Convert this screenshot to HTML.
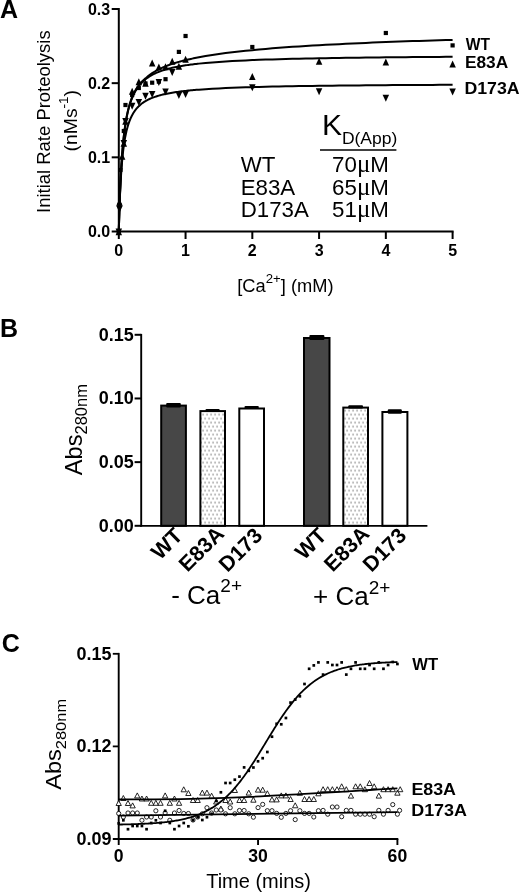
<!DOCTYPE html>
<html lang="en"><head><meta charset="utf-8"><title>Figure</title>
<style>html,body{margin:0;padding:0;background:#fff}svg{display:block}text{font-family:"Liberation Sans", sans-serif;fill:#000}</style>
</head><body>
<svg width="520" height="893" viewBox="0 0 520 893">
<rect width="520" height="893" fill="#fff"/>
<g id="panelA">
<text x="0.1" y="17.9" font-size="25" font-weight="bold" text-anchor="start" >A</text>
<line x1="118.8" y1="8" x2="118.8" y2="232.5" stroke="#000" stroke-width="2" />
<line x1="117.8" y1="231.6" x2="453.6" y2="231.6" stroke="#000" stroke-width="2" />
<line x1="111.7" y1="8.99" x2="118.8" y2="8.99" stroke="#000" stroke-width="2" />
<text x="110.2" y="14.79" font-size="16" font-weight="bold" text-anchor="end" >0.3</text>
<line x1="111.7" y1="83.16" x2="118.8" y2="83.16" stroke="#000" stroke-width="2" />
<text x="110.2" y="88.96" font-size="16" font-weight="bold" text-anchor="end" >0.2</text>
<line x1="111.7" y1="157.33" x2="118.8" y2="157.33" stroke="#000" stroke-width="2" />
<text x="110.2" y="163.13" font-size="16" font-weight="bold" text-anchor="end" >0.1</text>
<line x1="111.7" y1="231.5" x2="118.8" y2="231.5" stroke="#000" stroke-width="2" />
<text x="110.2" y="237.3" font-size="16" font-weight="bold" text-anchor="end" >0.0</text>
<line x1="118.8" y1="231.5" x2="118.8" y2="239" stroke="#000" stroke-width="2" />
<text x="118.8" y="256.3" font-size="16" font-weight="bold" text-anchor="middle" >0</text>
<line x1="185.56" y1="231.5" x2="185.56" y2="239" stroke="#000" stroke-width="2" />
<text x="185.56" y="256.3" font-size="16" font-weight="bold" text-anchor="middle" >1</text>
<line x1="252.32" y1="231.5" x2="252.32" y2="239" stroke="#000" stroke-width="2" />
<text x="252.32" y="256.3" font-size="16" font-weight="bold" text-anchor="middle" >2</text>
<line x1="319.08" y1="231.5" x2="319.08" y2="239" stroke="#000" stroke-width="2" />
<text x="319.08" y="256.3" font-size="16" font-weight="bold" text-anchor="middle" >3</text>
<line x1="385.84" y1="231.5" x2="385.84" y2="239" stroke="#000" stroke-width="2" />
<text x="385.84" y="256.3" font-size="16" font-weight="bold" text-anchor="middle" >4</text>
<line x1="452.6" y1="231.5" x2="452.6" y2="239" stroke="#000" stroke-width="2" />
<text x="452.6" y="256.3" font-size="16" font-weight="bold" text-anchor="middle" >5</text>
<text transform="translate(50.3 121.65) rotate(-90)" font-size="18.47" text-anchor="middle">Initial Rate Proteolysis</text>
<text transform="translate(76.9 120.7) rotate(-90) scale(1.035 1)" font-size="18.7" text-anchor="middle">(nMs<tspan font-size="13" dy="-9.1">-1</tspan><tspan dy="9.1">)</tspan></text>
<text x="285.4" y="292.2" font-size="18.3" text-anchor="middle">[Ca<tspan font-size="13.2" dy="-9">2+</tspan><tspan dy="9">] (mM)</tspan></text>
<path d="M118.8 231.5 L119.07 221.21 L119.33 212.05 L119.6 203.83 L119.87 196.42 L120.14 189.71 L120.4 183.6 L120.67 178.01 L120.94 172.88 L121.2 168.15 L121.47 163.79 L121.74 159.74 L122 155.97 L122.27 152.46 L122.54 149.18 L122.81 146.11 L123.07 143.23 L123.34 140.51 L123.61 137.96 L123.87 135.55 L124.14 133.27 L124.41 131.11 L124.67 129.06 L124.94 127.12 L125.21 125.27 L125.48 123.5 L125.74 121.82 L126.01 120.22 L126.28 118.69 L126.54 117.22 L126.81 115.82 L127.08 114.5 L127.35 113.24 L127.61 112.03 L127.88 110.87 L128.15 109.75 L128.41 108.68 L128.68 107.65 L128.95 106.65 L129.21 105.69 L129.48 104.76 L129.75 103.87 L130.02 103.01 L130.28 102.18 L130.55 101.37 L130.82 100.59 L131.08 99.84 L131.35 99.11 L131.62 98.4 L131.88 97.71 L132.15 97.05 L132.42 96.4 L132.69 95.78 L132.95 95.17 L133.22 94.58 L133.49 94 L133.75 93.44 L134.02 92.9 L134.29 92.37 L134.56 91.86 L134.82 91.36 L135.09 90.87 L135.36 90.39 L135.62 89.93 L135.89 89.48 L136.16 89.03 L136.42 88.6 L136.69 88.18 L136.96 87.77 L137.23 87.37 L137.49 86.98 L137.76 86.6 L138.03 86.23 L138.29 85.86 L138.56 85.5 L138.83 85.16 L140.16 83.52 L141.5 82.04 L142.83 80.71 L144.17 79.49 L145.5 78.38 L146.84 77.19 L148.17 76.08 L149.51 75.05 L150.84 74.08 L152.18 73.17 L153.52 72.32 L154.85 71.51 L156.19 70.74 L157.52 70.02 L158.86 69.33 L160.19 68.68 L161.53 68.05 L162.86 67.45 L164.2 66.88 L165.53 66.34 L166.87 65.81 L168.2 65.31 L169.54 64.82 L170.87 64.35 L172.21 63.9 L173.54 63.47 L174.88 63.05 L176.21 62.64 L177.55 62.25 L178.88 61.87 L180.22 61.5 L181.55 61.14 L182.89 60.8 L184.22 60.46 L185.56 60.13 L186.9 59.81 L188.23 59.5 L189.57 59.2 L190.9 58.9 L192.24 58.62 L193.57 58.34 L194.91 58.06 L196.24 57.79 L197.58 57.53 L198.91 57.28 L205.59 56.08 L212.26 55 L218.94 54.02 L225.62 53.11 L232.29 52.28 L238.97 51.51 L245.64 50.8 L252.32 50.13 L259 49.5 L265.67 48.91 L272.35 48.36 L279.02 47.83 L285.7 47.34 L292.38 46.87 L299.05 46.42 L305.73 45.99 L312.4 45.58 L319.08 45.2 L325.76 44.82 L332.43 44.47 L339.11 44.13 L345.78 43.8 L352.46 43.48 L359.14 43.18 L365.81 42.89 L372.49 42.61 L379.16 42.34 L385.84 42.08 L392.52 41.83 L399.19 41.58 L405.87 41.35 L412.54 41.12 L419.22 40.9 L425.9 40.68 L432.57 40.48 L439.25 40.27 L445.92 40.08 L452.6 39.89" fill="none" stroke="#000" stroke-width="2" stroke-linejoin="round" stroke-linecap="butt" />
<path d="M118.8 231.5 L119.07 221.24 L119.33 212.11 L119.6 203.92 L119.87 196.54 L120.14 189.86 L120.4 183.78 L120.67 178.22 L120.94 173.12 L121.2 168.42 L121.47 164.08 L121.74 160.06 L122 156.33 L122.27 152.85 L122.54 149.6 L122.81 146.55 L123.07 143.7 L123.34 141.02 L123.61 138.49 L123.87 136.11 L124.14 133.86 L124.41 131.73 L124.67 129.71 L124.94 127.8 L125.21 125.98 L125.48 124.25 L125.74 122.6 L126.01 121.02 L126.28 119.52 L126.54 118.08 L126.81 116.71 L127.08 115.39 L127.35 114.13 L127.61 112.92 L127.88 111.76 L128.15 110.64 L128.41 109.57 L128.68 108.54 L128.95 107.54 L129.21 106.58 L129.48 105.65 L129.75 104.76 L130.02 103.9 L130.28 103.07 L130.55 102.26 L130.82 101.48 L131.08 100.73 L131.35 100 L131.62 99.29 L131.88 98.6 L132.15 97.94 L132.42 97.29 L132.69 96.67 L132.95 96.06 L133.22 95.47 L133.49 94.89 L133.75 94.33 L134.02 93.79 L134.29 93.26 L134.56 92.75 L134.82 92.25 L135.09 91.76 L135.36 91.28 L135.62 90.82 L135.89 90.37 L136.16 89.92 L136.42 89.49 L136.69 89.07 L136.96 88.66 L137.23 88.26 L137.49 87.87 L137.76 87.49 L138.03 87.12 L138.29 86.75 L138.56 86.39 L138.83 86.05 L140.16 84.41 L141.5 82.93 L142.83 81.6 L144.17 80.38 L145.5 79.27 L146.84 78.25 L148.17 77.31 L149.51 76.44 L150.84 75.64 L152.18 74.89 L153.52 74.19 L154.85 73.54 L156.19 72.94 L157.52 72.36 L158.86 71.83 L160.19 71.32 L161.53 70.85 L162.86 70.4 L164.2 69.97 L165.53 69.57 L166.87 69.18 L168.2 68.82 L169.54 68.47 L170.87 68.14 L172.21 67.83 L173.54 67.53 L174.88 67.24 L176.21 66.97 L177.55 66.7 L178.88 66.45 L180.22 66.21 L181.55 65.98 L182.89 65.75 L184.22 65.54 L185.56 65.33 L186.9 65.13 L188.23 64.94 L189.57 64.76 L190.9 64.58 L192.24 64.4 L193.57 64.24 L194.91 64.08 L196.24 63.92 L197.58 63.77 L198.91 63.62 L205.59 62.96 L212.26 62.38 L218.94 61.88 L225.62 61.44 L232.29 61.05 L238.97 60.7 L245.64 60.38 L252.32 60.1 L259 59.84 L265.67 59.61 L272.35 59.39 L279.02 59.2 L285.7 59.01 L292.38 58.85 L299.05 58.69 L305.73 58.55 L312.4 58.41 L319.08 58.28 L325.76 58.16 L332.43 58.05 L339.11 57.95 L345.78 57.85 L352.46 57.76 L359.14 57.67 L365.81 57.59 L372.49 57.51 L379.16 57.43 L385.84 57.36 L392.52 57.29 L399.19 57.23 L405.87 57.17 L412.54 57.11 L419.22 57.05 L425.9 57 L432.57 56.94 L439.25 56.89 L445.92 56.85 L452.6 56.8" fill="none" stroke="#000" stroke-width="2" stroke-linejoin="round" stroke-linecap="butt" />
<path d="M118.8 231.5 L119.07 221.44 L119.33 212.66 L119.6 204.93 L119.87 198.07 L120.14 191.94 L120.4 186.43 L120.67 181.46 L120.94 176.94 L121.2 172.82 L121.47 169.04 L121.74 165.57 L122 162.37 L122.27 159.41 L122.54 156.66 L122.81 154.11 L123.07 151.72 L123.34 149.49 L123.61 147.4 L123.87 145.44 L124.14 143.59 L124.41 141.86 L124.67 140.21 L124.94 138.66 L125.21 137.19 L125.48 135.8 L125.74 134.47 L126.01 133.21 L126.28 132.01 L126.54 130.87 L126.81 129.78 L127.08 128.74 L127.35 127.74 L127.61 126.79 L127.88 125.88 L128.15 125 L128.41 124.16 L128.68 123.35 L128.95 122.57 L129.21 121.83 L129.48 121.11 L129.75 120.41 L130.02 119.75 L130.28 119.1 L130.55 118.48 L130.82 117.88 L131.08 117.3 L131.35 116.73 L131.62 116.19 L131.88 115.66 L132.15 115.15 L132.42 114.66 L132.69 114.18 L132.95 113.72 L133.22 113.27 L133.49 112.83 L133.75 112.4 L134.02 111.99 L134.29 111.59 L134.56 111.2 L134.82 110.82 L135.09 110.45 L135.36 110.09 L135.62 109.74 L135.89 109.39 L136.16 109.06 L136.42 108.74 L136.69 108.42 L136.96 108.11 L137.23 107.81 L137.49 107.51 L137.76 107.23 L138.03 106.95 L138.29 106.67 L138.56 106.4 L138.83 106.14 L140.16 104.92 L141.5 103.81 L142.83 102.82 L144.17 101.92 L145.5 101.09 L146.84 100.34 L148.17 99.64 L149.51 99 L150.84 98.41 L152.18 97.86 L153.52 97.35 L154.85 96.87 L156.19 96.43 L157.52 96.01 L158.86 95.62 L160.19 95.25 L161.53 94.9 L162.86 94.57 L164.2 94.26 L165.53 93.97 L166.87 93.69 L168.2 93.42 L169.54 93.17 L170.87 92.93 L172.21 92.7 L173.54 92.48 L174.88 92.28 L176.21 92.08 L177.55 91.89 L178.88 91.7 L180.22 91.53 L181.55 91.36 L182.89 91.2 L184.22 91.04 L185.56 90.89 L186.9 90.75 L188.23 90.61 L189.57 90.48 L190.9 90.35 L192.24 90.22 L193.57 90.1 L194.91 89.99 L196.24 89.87 L197.58 89.77 L198.91 89.66 L205.59 89.18 L212.26 88.77 L218.94 88.41 L225.62 88.09 L232.29 87.81 L238.97 87.56 L245.64 87.33 L252.32 87.13 L259 86.95 L265.67 86.78 L272.35 86.62 L279.02 86.48 L285.7 86.35 L292.38 86.23 L299.05 86.12 L305.73 86.02 L312.4 85.92 L319.08 85.83 L325.76 85.75 L332.43 85.67 L339.11 85.59 L345.78 85.52 L352.46 85.45 L359.14 85.39 L365.81 85.33 L372.49 85.28 L379.16 85.22 L385.84 85.17 L392.52 85.12 L399.19 85.08 L405.87 85.03 L412.54 84.99 L419.22 84.95 L425.9 84.91 L432.57 84.88 L439.25 84.84 L445.92 84.81 L452.6 84.77" fill="none" stroke="#000" stroke-width="2" stroke-linejoin="round" stroke-linecap="butt" />
<rect x="116.7" y="229.4" width="4.2" height="4.2" fill="#000"/>
<rect x="117.37" y="202.9" width="4.2" height="4.2" fill="#000"/>
<rect x="118.37" y="167.9" width="4.2" height="4.2" fill="#000"/>
<rect x="121.71" y="128.9" width="4.2" height="4.2" fill="#000"/>
<rect x="123.38" y="102.9" width="4.2" height="4.2" fill="#000"/>
<rect x="130.05" y="92.9" width="4.2" height="4.2" fill="#000"/>
<rect x="136.73" y="85.9" width="4.2" height="4.2" fill="#000"/>
<rect x="143.4" y="81.4" width="4.2" height="4.2" fill="#000"/>
<rect x="150.08" y="80.6" width="4.2" height="4.2" fill="#000"/>
<rect x="156.76" y="79.5" width="4.2" height="4.2" fill="#000"/>
<rect x="163.43" y="77.1" width="4.2" height="4.2" fill="#000"/>
<rect x="176.78" y="49.8" width="4.2" height="4.2" fill="#000"/>
<rect x="183.46" y="33.9" width="4.2" height="4.2" fill="#000"/>
<rect x="250.22" y="44.9" width="4.2" height="4.2" fill="#000"/>
<rect x="383.74" y="30.9" width="4.2" height="4.2" fill="#000"/>
<rect x="450.5" y="43.3" width="4.2" height="4.2" fill="#000"/>
<path d="M115.55 235.25L122.05 235.25L118.8 228.25Z" fill="#000"/>
<path d="M116.22 205.75L122.72 205.75L119.47 198.75Z" fill="#000"/>
<path d="M118.89 159.75L125.39 159.75L122.14 152.75Z" fill="#000"/>
<path d="M120.56 146.75L127.06 146.75L123.81 139.75Z" fill="#000"/>
<path d="M122.23 124.75L128.73 124.75L125.48 117.75Z" fill="#000"/>
<path d="M128.9 94.75L135.4 94.75L132.15 87.75Z" fill="#000"/>
<path d="M135.58 85.35L142.08 85.35L138.83 78.35Z" fill="#000"/>
<path d="M142.25 86.75L148.75 86.75L145.5 79.75Z" fill="#000"/>
<path d="M148.93 66.45L155.43 66.45L152.18 59.45Z" fill="#000"/>
<path d="M155.61 70.55L162.11 70.55L158.86 63.55Z" fill="#000"/>
<path d="M162.28 70.25L168.78 70.25L165.53 63.25Z" fill="#000"/>
<path d="M168.96 64.75L175.46 64.75L172.21 57.75Z" fill="#000"/>
<path d="M175.63 69.75L182.13 69.75L178.88 62.75Z" fill="#000"/>
<path d="M182.31 62.75L188.81 62.75L185.56 55.75Z" fill="#000"/>
<path d="M249.07 79.95L255.57 79.95L252.32 72.95Z" fill="#000"/>
<path d="M315.83 64.65L322.33 64.65L319.08 57.65Z" fill="#000"/>
<path d="M382.59 65.45L389.09 65.45L385.84 58.45Z" fill="#000"/>
<path d="M449.35 67.55L455.85 67.55L452.6 60.55Z" fill="#000"/>
<path d="M115.55 228.55L122.05 228.55L118.8 235.55Z" fill="#000"/>
<path d="M116.22 205.65L122.72 205.65L119.47 212.65Z" fill="#000"/>
<path d="M120.56 140.05L127.06 140.05L123.81 147.05Z" fill="#000"/>
<path d="M122.23 118.05L128.73 118.05L125.48 125.05Z" fill="#000"/>
<path d="M128.9 102.85L135.4 102.85L132.15 109.85Z" fill="#000"/>
<path d="M135.58 99.05L142.08 99.05L138.83 106.05Z" fill="#000"/>
<path d="M142.25 92.85L148.75 92.85L145.5 99.85Z" fill="#000"/>
<path d="M148.93 91.05L155.43 91.05L152.18 98.05Z" fill="#000"/>
<path d="M155.61 79.05L162.11 79.05L158.86 86.05Z" fill="#000"/>
<path d="M162.28 88.55L168.78 88.55L165.53 95.55Z" fill="#000"/>
<path d="M168.96 69.05L175.46 69.05L172.21 76.05Z" fill="#000"/>
<path d="M175.63 92.05L182.13 92.05L178.88 99.05Z" fill="#000"/>
<path d="M182.31 91.05L188.81 91.05L185.56 98.05Z" fill="#000"/>
<path d="M249.07 84.35L255.57 84.35L252.32 91.35Z" fill="#000"/>
<path d="M315.83 88.35L322.33 88.35L319.08 95.35Z" fill="#000"/>
<path d="M382.59 94.65L389.09 94.65L385.84 101.65Z" fill="#000"/>
<path d="M449.35 88.55L455.85 88.55L452.6 95.55Z" fill="#000"/>
<text x="465.8" y="49.6" font-size="16" font-weight="bold" text-anchor="start" textLength="24.2" lengthAdjust="spacingAndGlyphs">WT</text>
<text x="465" y="68.2" font-size="16" font-weight="bold" text-anchor="start" textLength="43.2" lengthAdjust="spacingAndGlyphs">E83A</text>
<text x="464.4" y="93.7" font-size="16" font-weight="bold" text-anchor="start" textLength="55.2" lengthAdjust="spacingAndGlyphs">D173A</text>
<text x="321.9" y="134.5" font-size="30" text-anchor="start" >K</text>
<text x="341.9" y="144.2" font-size="16.3" text-anchor="start" textLength="55.4" lengthAdjust="spacingAndGlyphs">D(App)</text>
<line x1="320" y1="149.9" x2="396.4" y2="149.9" stroke="#000" stroke-width="1.5" />
<text x="240.7" y="172" font-size="22.3" text-anchor="start" >WT</text>
<text x="332.1" y="172" font-size="22.3">70<tspan font-family='"Liberation Serif", "DejaVu Serif", serif' font-size="25">μ</tspan>M</text>
<text x="240.7" y="194.6" font-size="22.3" text-anchor="start" >E83A</text>
<text x="332.1" y="194.6" font-size="22.3">65<tspan font-family='"Liberation Serif", "DejaVu Serif", serif' font-size="25">μ</tspan>M</text>
<text x="240.7" y="217.2" font-size="22.3" text-anchor="start" >D173A</text>
<text x="332.1" y="217.2" font-size="22.3">51<tspan font-family='"Liberation Serif", "DejaVu Serif", serif' font-size="25">μ</tspan>M</text>
</g>
<g id="panelB">
<text x="0.1" y="336.7" font-size="25" font-weight="bold" text-anchor="start" >B</text>
<line x1="141.2" y1="333.9" x2="141.2" y2="526.7" stroke="#000" stroke-width="1.9" />
<line x1="140.2" y1="525.9" x2="427.4" y2="525.9" stroke="#000" stroke-width="1.7" />
<line x1="134.6" y1="334.79" x2="141.2" y2="334.79" stroke="#000" stroke-width="2" />
<text x="133.8" y="340.79" font-size="17.7" font-weight="bold" text-anchor="end" textLength="35" lengthAdjust="spacingAndGlyphs">0.15</text>
<line x1="134.6" y1="398.46" x2="141.2" y2="398.46" stroke="#000" stroke-width="2" />
<text x="133.8" y="404.46" font-size="17.7" font-weight="bold" text-anchor="end" textLength="35" lengthAdjust="spacingAndGlyphs">0.10</text>
<line x1="134.6" y1="462.13" x2="141.2" y2="462.13" stroke="#000" stroke-width="2" />
<text x="133.8" y="468.13" font-size="17.7" font-weight="bold" text-anchor="end" textLength="35" lengthAdjust="spacingAndGlyphs">0.05</text>
<line x1="134.6" y1="525.8" x2="141.2" y2="525.8" stroke="#000" stroke-width="2" />
<text x="133.8" y="531.8" font-size="17.7" font-weight="bold" text-anchor="end" textLength="35" lengthAdjust="spacingAndGlyphs">0.00</text>
<text transform="translate(82.3 429.6) rotate(-90)" font-size="23.6" text-anchor="middle">Abs<tspan font-size="16.5" dy="5">280nm</tspan></text>
<defs><pattern id="dots" x="200" y="411.5" width="4" height="8" patternUnits="userSpaceOnUse"><rect x="2.5" y="2.5" width="1.15" height="1.15" fill="#484848"/><rect x="0.5" y="6.5" width="1.15" height="1.15" fill="#484848"/></pattern></defs>
<rect x="161.2" y="405.6" width="24.7" height="120.2" fill="#474747" stroke="#000" stroke-width="2"/>
<rect x="166.2" y="403.1" width="14.6" height="4.3" rx="1" fill="#000"/>
<rect x="200.4" y="411.1" width="24.6" height="114.7" fill="url(#dots)" stroke="#000" stroke-width="2"/>
<rect x="205.5" y="409" width="14.2" height="2.9" rx="1" fill="#000"/>
<rect x="239.3" y="408.5" width="24.7" height="117.3" fill="#fff" stroke="#000" stroke-width="2"/>
<rect x="244.5" y="406.1" width="14.3" height="2.5" rx="1" fill="#000"/>
<rect x="304" y="338" width="25.5" height="187.8" fill="#474747" stroke="#000" stroke-width="2"/>
<rect x="309.4" y="334.9" width="15" height="5.1" rx="1" fill="#000"/>
<rect x="343.3" y="407.6" width="24.7" height="118.2" fill="url(#dots)" stroke="#000" stroke-width="2"/>
<rect x="348.3" y="405.2" width="14.7" height="3.2" rx="1" fill="#000"/>
<rect x="382.4" y="412" width="25" height="113.8" fill="#fff" stroke="#000" stroke-width="2"/>
<rect x="387.8" y="409.3" width="14" height="4.5" rx="1" fill="#000"/>
<text transform="translate(183.9 537) rotate(-45)" font-size="21.7" font-weight="bold" text-anchor="end">WT</text>
<text transform="translate(225.3 535) rotate(-45)" font-size="21.3" font-weight="bold" text-anchor="end">E83A</text>
<text transform="translate(263.6 536.9) rotate(-45)" font-size="21.3" font-weight="bold" text-anchor="end">D173</text>
<text transform="translate(327.9 537) rotate(-45)" font-size="21.7" font-weight="bold" text-anchor="end">WT</text>
<text transform="translate(370.55 535) rotate(-45)" font-size="21.3" font-weight="bold" text-anchor="end">E83A</text>
<text transform="translate(407.6 536.9) rotate(-45)" font-size="21.3" font-weight="bold" text-anchor="end">D173</text>
<text x="171.2" y="603.8" font-size="26">- Ca<tspan font-size="19" dy="-11.4">2+</tspan></text>
<text x="313.0" y="605.1" font-size="26">+ Ca<tspan font-size="19" dy="-11.4">2+</tspan></text>
</g>
<g id="panelC">
<text x="1.7" y="651.5" font-size="25" font-weight="bold" text-anchor="start" >C</text>
<line x1="118.7" y1="652.9" x2="118.7" y2="839.9" stroke="#000" stroke-width="1.9" />
<line x1="113" y1="839" x2="398.3" y2="839" stroke="#000" stroke-width="1.8" />
<line x1="112.8" y1="653.8" x2="118.7" y2="653.8" stroke="#000" stroke-width="1.8" />
<text x="111.5" y="659.5" font-size="17.7" font-weight="bold" text-anchor="end" textLength="35" lengthAdjust="spacingAndGlyphs">0.15</text>
<line x1="112.8" y1="746.4" x2="118.7" y2="746.4" stroke="#000" stroke-width="1.8" />
<text x="111.5" y="752.1" font-size="17.7" font-weight="bold" text-anchor="end" textLength="35" lengthAdjust="spacingAndGlyphs">0.12</text>
<line x1="112.8" y1="839" x2="118.7" y2="839" stroke="#000" stroke-width="1.8" />
<text x="111.5" y="844.7" font-size="17.7" font-weight="bold" text-anchor="end" textLength="35" lengthAdjust="spacingAndGlyphs">0.09</text>
<line x1="118.7" y1="839" x2="118.7" y2="845" stroke="#000" stroke-width="1.9" />
<text x="118.7" y="862.2" font-size="17.6" font-weight="bold" text-anchor="middle" >0</text>
<line x1="258.05" y1="839" x2="258.05" y2="845" stroke="#000" stroke-width="1.9" />
<text x="258.05" y="862.2" font-size="17.6" font-weight="bold" text-anchor="middle" >30</text>
<line x1="397.4" y1="839" x2="397.4" y2="845" stroke="#000" stroke-width="1.9" />
<text x="397.4" y="862.2" font-size="17.6" font-weight="bold" text-anchor="middle" >60</text>
<text x="258.6" y="887.8" font-size="20" text-anchor="middle" >Time (mins)</text>
<text transform="translate(60.7 744.3) rotate(-90) scale(1.06 1)" font-size="22.2" text-anchor="middle">Abs<tspan font-size="15.5" dy="5.5">280nm</tspan></text>
<path d="M116.05 805.5L121.35 805.5L118.7 800.5Z" fill="#fff" stroke="#000" stroke-width="0.85"/>
<path d="M120.69 800.5L126 800.5L123.34 795.5Z" fill="#fff" stroke="#000" stroke-width="0.85"/>
<path d="M125.34 805.5L130.64 805.5L127.99 800.5Z" fill="#fff" stroke="#000" stroke-width="0.85"/>
<path d="M129.98 807.9L135.28 807.9L132.63 802.9Z" fill="#fff" stroke="#000" stroke-width="0.85"/>
<path d="M134.63 797.9L139.93 797.9L137.28 792.9Z" fill="#fff" stroke="#000" stroke-width="0.85"/>
<path d="M139.28 801L144.58 801L141.93 796Z" fill="#fff" stroke="#000" stroke-width="0.85"/>
<path d="M143.92 801L149.22 801L146.57 796Z" fill="#fff" stroke="#000" stroke-width="0.85"/>
<path d="M148.56 805.3L153.87 805.3L151.22 800.3Z" fill="#fff" stroke="#000" stroke-width="0.85"/>
<path d="M153.21 805.3L158.51 805.3L155.86 800.3Z" fill="#fff" stroke="#000" stroke-width="0.85"/>
<path d="M157.85 805.3L163.16 805.3L160.5 800.3Z" fill="#fff" stroke="#000" stroke-width="0.85"/>
<path d="M162.5 797.9L167.8 797.9L165.15 792.9Z" fill="#fff" stroke="#000" stroke-width="0.85"/>
<path d="M167.15 805.3L172.45 805.3L169.8 800.3Z" fill="#fff" stroke="#000" stroke-width="0.85"/>
<path d="M171.79 801L177.09 801L174.44 796Z" fill="#fff" stroke="#000" stroke-width="0.85"/>
<path d="M176.43 805.3L181.73 805.3L179.08 800.3Z" fill="#fff" stroke="#000" stroke-width="0.85"/>
<path d="M181.08 791.8L186.38 791.8L183.73 786.8Z" fill="#fff" stroke="#000" stroke-width="0.85"/>
<path d="M185.72 795.5L191.03 795.5L188.38 790.5Z" fill="#fff" stroke="#000" stroke-width="0.85"/>
<path d="M190.37 802.5L195.67 802.5L193.02 797.5Z" fill="#fff" stroke="#000" stroke-width="0.85"/>
<path d="M195.01 802.5L200.31 802.5L197.66 797.5Z" fill="#fff" stroke="#000" stroke-width="0.85"/>
<path d="M199.66 795.1L204.96 795.1L202.31 790.1Z" fill="#fff" stroke="#000" stroke-width="0.85"/>
<path d="M204.3 795.1L209.6 795.1L206.95 790.1Z" fill="#fff" stroke="#000" stroke-width="0.85"/>
<path d="M208.95 798.2L214.25 798.2L211.6 793.2Z" fill="#fff" stroke="#000" stroke-width="0.85"/>
<path d="M213.59 804L218.9 804L216.25 799Z" fill="#fff" stroke="#000" stroke-width="0.85"/>
<path d="M218.24 811L223.54 811L220.89 806Z" fill="#fff" stroke="#000" stroke-width="0.85"/>
<path d="M222.88 802.5L228.19 802.5L225.53 797.5Z" fill="#fff" stroke="#000" stroke-width="0.85"/>
<path d="M227.53 804L232.83 804L230.18 799Z" fill="#fff" stroke="#000" stroke-width="0.85"/>
<path d="M232.17 792.5L237.47 792.5L234.82 787.5Z" fill="#fff" stroke="#000" stroke-width="0.85"/>
<path d="M236.82 802.5L242.12 802.5L239.47 797.5Z" fill="#fff" stroke="#000" stroke-width="0.85"/>
<path d="M241.47 802.5L246.77 802.5L244.12 797.5Z" fill="#fff" stroke="#000" stroke-width="0.85"/>
<path d="M246.11 795.1L251.41 795.1L248.76 790.1Z" fill="#fff" stroke="#000" stroke-width="0.85"/>
<path d="M250.75 802.2L256.05 802.2L253.4 797.2Z" fill="#fff" stroke="#000" stroke-width="0.85"/>
<path d="M255.4 792.1L260.7 792.1L258.05 787.1Z" fill="#fff" stroke="#000" stroke-width="0.85"/>
<path d="M260.05 792.2L265.34 792.2L262.69 787.2Z" fill="#fff" stroke="#000" stroke-width="0.85"/>
<path d="M264.69 795.8L269.99 795.8L267.34 790.8Z" fill="#fff" stroke="#000" stroke-width="0.85"/>
<path d="M269.34 801.9L274.63 801.9L271.99 796.9Z" fill="#fff" stroke="#000" stroke-width="0.85"/>
<path d="M273.98 801.9L279.28 801.9L276.63 796.9Z" fill="#fff" stroke="#000" stroke-width="0.85"/>
<path d="M278.62 797.9L283.92 797.9L281.27 792.9Z" fill="#fff" stroke="#000" stroke-width="0.85"/>
<path d="M283.27 797.9L288.57 797.9L285.92 792.9Z" fill="#fff" stroke="#000" stroke-width="0.85"/>
<path d="M287.92 801.5L293.21 801.5L290.56 796.5Z" fill="#fff" stroke="#000" stroke-width="0.85"/>
<path d="M292.56 807.8L297.86 807.8L295.21 802.8Z" fill="#fff" stroke="#000" stroke-width="0.85"/>
<path d="M297.2 795.3L302.5 795.3L299.85 790.3Z" fill="#fff" stroke="#000" stroke-width="0.85"/>
<path d="M301.85 801.5L307.15 801.5L304.5 796.5Z" fill="#fff" stroke="#000" stroke-width="0.85"/>
<path d="M306.5 801.5L311.79 801.5L309.14 796.5Z" fill="#fff" stroke="#000" stroke-width="0.85"/>
<path d="M311.14 801.5L316.44 801.5L313.79 796.5Z" fill="#fff" stroke="#000" stroke-width="0.85"/>
<path d="M315.79 795.8L321.08 795.8L318.44 790.8Z" fill="#fff" stroke="#000" stroke-width="0.85"/>
<path d="M320.43 791.7L325.73 791.7L323.08 786.7Z" fill="#fff" stroke="#000" stroke-width="0.85"/>
<path d="M325.07 791.7L330.37 791.7L327.72 786.7Z" fill="#fff" stroke="#000" stroke-width="0.85"/>
<path d="M329.72 791.7L335.02 791.7L332.37 786.7Z" fill="#fff" stroke="#000" stroke-width="0.85"/>
<path d="M334.37 791.7L339.66 791.7L337.01 786.7Z" fill="#fff" stroke="#000" stroke-width="0.85"/>
<path d="M339.01 788.8L344.31 788.8L341.66 783.8Z" fill="#fff" stroke="#000" stroke-width="0.85"/>
<path d="M343.66 791.7L348.95 791.7L346.31 786.7Z" fill="#fff" stroke="#000" stroke-width="0.85"/>
<path d="M348.3 798.1L353.6 798.1L350.95 793.1Z" fill="#fff" stroke="#000" stroke-width="0.85"/>
<path d="M352.94 788.8L358.24 788.8L355.59 783.8Z" fill="#fff" stroke="#000" stroke-width="0.85"/>
<path d="M357.59 788.8L362.89 788.8L360.24 783.8Z" fill="#fff" stroke="#000" stroke-width="0.85"/>
<path d="M362.24 791.7L367.53 791.7L364.88 786.7Z" fill="#fff" stroke="#000" stroke-width="0.85"/>
<path d="M366.88 785.5L372.18 785.5L369.53 780.5Z" fill="#fff" stroke="#000" stroke-width="0.85"/>
<path d="M371.52 788.8L376.82 788.8L374.17 783.8Z" fill="#fff" stroke="#000" stroke-width="0.85"/>
<path d="M376.17 798.1L381.47 798.1L378.82 793.1Z" fill="#fff" stroke="#000" stroke-width="0.85"/>
<path d="M380.81 791.7L386.11 791.7L383.46 786.7Z" fill="#fff" stroke="#000" stroke-width="0.85"/>
<path d="M385.46 791.7L390.76 791.7L388.11 786.7Z" fill="#fff" stroke="#000" stroke-width="0.85"/>
<path d="M390.1 791.7L395.4 791.7L392.75 786.7Z" fill="#fff" stroke="#000" stroke-width="0.85"/>
<path d="M394.75 795.2L400.05 795.2L397.4 790.2Z" fill="#fff" stroke="#000" stroke-width="0.85"/>
<path d="M397.55 791.7L402.85 791.7L400.2 786.7Z" fill="#fff" stroke="#000" stroke-width="0.85"/>
<circle cx="118.7" cy="813.5" r="2.1" fill="#fff" stroke="#000" stroke-width="0.85"/>
<circle cx="123.34" cy="817" r="2.1" fill="#fff" stroke="#000" stroke-width="0.85"/>
<circle cx="127.99" cy="813" r="2.1" fill="#fff" stroke="#000" stroke-width="0.85"/>
<circle cx="132.63" cy="813" r="2.1" fill="#fff" stroke="#000" stroke-width="0.85"/>
<circle cx="137.28" cy="813" r="2.1" fill="#fff" stroke="#000" stroke-width="0.85"/>
<circle cx="141.93" cy="820.3" r="2.1" fill="#fff" stroke="#000" stroke-width="0.85"/>
<circle cx="146.57" cy="817" r="2.1" fill="#fff" stroke="#000" stroke-width="0.85"/>
<circle cx="151.22" cy="817" r="2.1" fill="#fff" stroke="#000" stroke-width="0.85"/>
<circle cx="155.86" cy="810.8" r="2.1" fill="#fff" stroke="#000" stroke-width="0.85"/>
<circle cx="160.5" cy="817" r="2.1" fill="#fff" stroke="#000" stroke-width="0.85"/>
<circle cx="165.15" cy="813" r="2.1" fill="#fff" stroke="#000" stroke-width="0.85"/>
<circle cx="169.8" cy="820.3" r="2.1" fill="#fff" stroke="#000" stroke-width="0.85"/>
<circle cx="174.44" cy="813" r="2.1" fill="#fff" stroke="#000" stroke-width="0.85"/>
<circle cx="179.08" cy="810.5" r="2.1" fill="#fff" stroke="#000" stroke-width="0.85"/>
<circle cx="183.73" cy="813.5" r="2.1" fill="#fff" stroke="#000" stroke-width="0.85"/>
<circle cx="188.38" cy="813.5" r="2.1" fill="#fff" stroke="#000" stroke-width="0.85"/>
<circle cx="193.02" cy="820" r="2.1" fill="#fff" stroke="#000" stroke-width="0.85"/>
<circle cx="197.66" cy="817" r="2.1" fill="#fff" stroke="#000" stroke-width="0.85"/>
<circle cx="202.31" cy="813.8" r="2.1" fill="#fff" stroke="#000" stroke-width="0.85"/>
<circle cx="206.95" cy="807.7" r="2.1" fill="#fff" stroke="#000" stroke-width="0.85"/>
<circle cx="211.6" cy="813" r="2.1" fill="#fff" stroke="#000" stroke-width="0.85"/>
<circle cx="216.25" cy="810" r="2.1" fill="#fff" stroke="#000" stroke-width="0.85"/>
<circle cx="220.89" cy="810" r="2.1" fill="#fff" stroke="#000" stroke-width="0.85"/>
<circle cx="225.53" cy="813.8" r="2.1" fill="#fff" stroke="#000" stroke-width="0.85"/>
<circle cx="230.18" cy="807.7" r="2.1" fill="#fff" stroke="#000" stroke-width="0.85"/>
<circle cx="234.82" cy="813.8" r="2.1" fill="#fff" stroke="#000" stroke-width="0.85"/>
<circle cx="239.47" cy="810.5" r="2.1" fill="#fff" stroke="#000" stroke-width="0.85"/>
<circle cx="244.12" cy="810.5" r="2.1" fill="#fff" stroke="#000" stroke-width="0.85"/>
<circle cx="248.76" cy="813.8" r="2.1" fill="#fff" stroke="#000" stroke-width="0.85"/>
<circle cx="253.4" cy="817.2" r="2.1" fill="#fff" stroke="#000" stroke-width="0.85"/>
<circle cx="258.05" cy="807.6" r="2.1" fill="#fff" stroke="#000" stroke-width="0.85"/>
<circle cx="262.69" cy="804.4" r="2.1" fill="#fff" stroke="#000" stroke-width="0.85"/>
<circle cx="267.34" cy="810.7" r="2.1" fill="#fff" stroke="#000" stroke-width="0.85"/>
<circle cx="271.99" cy="810.7" r="2.1" fill="#fff" stroke="#000" stroke-width="0.85"/>
<circle cx="276.63" cy="813.4" r="2.1" fill="#fff" stroke="#000" stroke-width="0.85"/>
<circle cx="281.27" cy="817.3" r="2.1" fill="#fff" stroke="#000" stroke-width="0.85"/>
<circle cx="285.92" cy="813.4" r="2.1" fill="#fff" stroke="#000" stroke-width="0.85"/>
<circle cx="290.56" cy="810.7" r="2.1" fill="#fff" stroke="#000" stroke-width="0.85"/>
<circle cx="295.21" cy="819.6" r="2.1" fill="#fff" stroke="#000" stroke-width="0.85"/>
<circle cx="299.85" cy="810.7" r="2.1" fill="#fff" stroke="#000" stroke-width="0.85"/>
<circle cx="304.5" cy="813.4" r="2.1" fill="#fff" stroke="#000" stroke-width="0.85"/>
<circle cx="309.14" cy="813.4" r="2.1" fill="#fff" stroke="#000" stroke-width="0.85"/>
<circle cx="313.79" cy="817" r="2.1" fill="#fff" stroke="#000" stroke-width="0.85"/>
<circle cx="318.44" cy="810.7" r="2.1" fill="#fff" stroke="#000" stroke-width="0.85"/>
<circle cx="323.08" cy="810.4" r="2.1" fill="#fff" stroke="#000" stroke-width="0.85"/>
<circle cx="327.72" cy="814.2" r="2.1" fill="#fff" stroke="#000" stroke-width="0.85"/>
<circle cx="332.37" cy="807" r="2.1" fill="#fff" stroke="#000" stroke-width="0.85"/>
<circle cx="337.01" cy="807" r="2.1" fill="#fff" stroke="#000" stroke-width="0.85"/>
<circle cx="341.66" cy="816.7" r="2.1" fill="#fff" stroke="#000" stroke-width="0.85"/>
<circle cx="346.31" cy="810.4" r="2.1" fill="#fff" stroke="#000" stroke-width="0.85"/>
<circle cx="350.95" cy="810.4" r="2.1" fill="#fff" stroke="#000" stroke-width="0.85"/>
<circle cx="355.59" cy="814.2" r="2.1" fill="#fff" stroke="#000" stroke-width="0.85"/>
<circle cx="360.24" cy="814.2" r="2.1" fill="#fff" stroke="#000" stroke-width="0.85"/>
<circle cx="364.88" cy="814.2" r="2.1" fill="#fff" stroke="#000" stroke-width="0.85"/>
<circle cx="369.53" cy="814.2" r="2.1" fill="#fff" stroke="#000" stroke-width="0.85"/>
<circle cx="374.17" cy="816.7" r="2.1" fill="#fff" stroke="#000" stroke-width="0.85"/>
<circle cx="378.82" cy="810.4" r="2.1" fill="#fff" stroke="#000" stroke-width="0.85"/>
<circle cx="383.46" cy="814.2" r="2.1" fill="#fff" stroke="#000" stroke-width="0.85"/>
<circle cx="388.11" cy="810.4" r="2.1" fill="#fff" stroke="#000" stroke-width="0.85"/>
<circle cx="392.75" cy="804.6" r="2.1" fill="#fff" stroke="#000" stroke-width="0.85"/>
<circle cx="397.4" cy="814.2" r="2.1" fill="#fff" stroke="#000" stroke-width="0.85"/>
<circle cx="399.6" cy="810.4" r="2.1" fill="#fff" stroke="#000" stroke-width="0.85"/>
<rect x="117.35" y="822.05" width="2.7" height="2.7" fill="#000"/>
<rect x="122" y="818.95" width="2.7" height="2.7" fill="#000"/>
<rect x="126.64" y="827.85" width="2.7" height="2.7" fill="#000"/>
<rect x="131.28" y="824.65" width="2.7" height="2.7" fill="#000"/>
<rect x="135.93" y="824.65" width="2.7" height="2.7" fill="#000"/>
<rect x="140.58" y="824.65" width="2.7" height="2.7" fill="#000"/>
<rect x="145.22" y="827.85" width="2.7" height="2.7" fill="#000"/>
<rect x="149.87" y="821.65" width="2.7" height="2.7" fill="#000"/>
<rect x="154.51" y="818.95" width="2.7" height="2.7" fill="#000"/>
<rect x="159.16" y="821.65" width="2.7" height="2.7" fill="#000"/>
<rect x="163.8" y="809.45" width="2.7" height="2.7" fill="#000"/>
<rect x="168.45" y="821.65" width="2.7" height="2.7" fill="#000"/>
<rect x="173.09" y="827.85" width="2.7" height="2.7" fill="#000"/>
<rect x="177.73" y="824.65" width="2.7" height="2.7" fill="#000"/>
<rect x="182.38" y="821.65" width="2.7" height="2.7" fill="#000"/>
<rect x="187.03" y="824.95" width="2.7" height="2.7" fill="#000"/>
<rect x="191.67" y="818.95" width="2.7" height="2.7" fill="#000"/>
<rect x="196.31" y="815.85" width="2.7" height="2.7" fill="#000"/>
<rect x="200.96" y="818.65" width="2.7" height="2.7" fill="#000"/>
<rect x="205.6" y="815.85" width="2.7" height="2.7" fill="#000"/>
<rect x="210.25" y="812.45" width="2.7" height="2.7" fill="#000"/>
<rect x="214.9" y="799.65" width="2.7" height="2.7" fill="#000"/>
<rect x="219.54" y="790.95" width="2.7" height="2.7" fill="#000"/>
<rect x="224.19" y="781.65" width="2.7" height="2.7" fill="#000"/>
<rect x="228.83" y="781.65" width="2.7" height="2.7" fill="#000"/>
<rect x="233.47" y="778.35" width="2.7" height="2.7" fill="#000"/>
<rect x="238.12" y="775.25" width="2.7" height="2.7" fill="#000"/>
<rect x="242.77" y="766.05" width="2.7" height="2.7" fill="#000"/>
<rect x="247.41" y="769.45" width="2.7" height="2.7" fill="#000"/>
<rect x="252.05" y="766.15" width="2.7" height="2.7" fill="#000"/>
<rect x="256.7" y="759.95" width="2.7" height="2.7" fill="#000"/>
<rect x="261.34" y="756.85" width="2.7" height="2.7" fill="#000"/>
<rect x="265.99" y="750.65" width="2.7" height="2.7" fill="#000"/>
<rect x="270.63" y="735.35" width="2.7" height="2.7" fill="#000"/>
<rect x="275.28" y="722.45" width="2.7" height="2.7" fill="#000"/>
<rect x="279.92" y="722.95" width="2.7" height="2.7" fill="#000"/>
<rect x="284.57" y="716.65" width="2.7" height="2.7" fill="#000"/>
<rect x="289.21" y="701.25" width="2.7" height="2.7" fill="#000"/>
<rect x="293.86" y="698.25" width="2.7" height="2.7" fill="#000"/>
<rect x="298.5" y="694.95" width="2.7" height="2.7" fill="#000"/>
<rect x="303.15" y="682.65" width="2.7" height="2.7" fill="#000"/>
<rect x="307.79" y="667.45" width="2.7" height="2.7" fill="#000"/>
<rect x="312.44" y="664.05" width="2.7" height="2.7" fill="#000"/>
<rect x="317.08" y="661.05" width="2.7" height="2.7" fill="#000"/>
<rect x="321.73" y="673.25" width="2.7" height="2.7" fill="#000"/>
<rect x="326.37" y="661.05" width="2.7" height="2.7" fill="#000"/>
<rect x="331.02" y="663.65" width="2.7" height="2.7" fill="#000"/>
<rect x="335.66" y="663.65" width="2.7" height="2.7" fill="#000"/>
<rect x="340.31" y="661.05" width="2.7" height="2.7" fill="#000"/>
<rect x="344.95" y="673.25" width="2.7" height="2.7" fill="#000"/>
<rect x="349.6" y="667.45" width="2.7" height="2.7" fill="#000"/>
<rect x="354.24" y="661.05" width="2.7" height="2.7" fill="#000"/>
<rect x="358.89" y="667.45" width="2.7" height="2.7" fill="#000"/>
<rect x="363.53" y="667.45" width="2.7" height="2.7" fill="#000"/>
<rect x="368.18" y="663.65" width="2.7" height="2.7" fill="#000"/>
<rect x="372.82" y="667.45" width="2.7" height="2.7" fill="#000"/>
<rect x="377.47" y="661.05" width="2.7" height="2.7" fill="#000"/>
<rect x="382.11" y="667.45" width="2.7" height="2.7" fill="#000"/>
<rect x="386.76" y="663.65" width="2.7" height="2.7" fill="#000"/>
<rect x="391.4" y="660.65" width="2.7" height="2.7" fill="#000"/>
<rect x="396.05" y="662.65" width="2.7" height="2.7" fill="#000"/>
<path d="M118.7 799.4 C124.75 799.38 141.45 799.43 155 799.3 C168.55 799.17 184.17 799 200 798.6 C215.83 798.2 233.33 797.63 250 796.9 C266.67 796.17 285 795.03 300 794.2 C315 793.37 328.33 792.6 340 791.9 C351.67 791.2 360.43 790.6 370 790 C379.57 789.4 392.83 788.58 397.4 788.3" fill="none" stroke="#000" stroke-width="1.8"/>
<line x1="118.7" y1="815.6" x2="397.4" y2="812.2" stroke="#000" stroke-width="1.8" />
<path d="M118.7 824.55 L119.86 824.53 L121.02 824.51 L122.18 824.49 L123.34 824.46 L124.51 824.44 L125.67 824.41 L126.83 824.38 L127.99 824.35 L129.15 824.32 L130.31 824.29 L131.47 824.26 L132.63 824.22 L133.8 824.18 L134.96 824.14 L136.12 824.1 L137.28 824.06 L138.44 824.02 L139.6 823.97 L140.76 823.92 L141.93 823.87 L143.09 823.81 L144.25 823.76 L145.41 823.7 L146.57 823.64 L147.73 823.57 L148.89 823.51 L150.05 823.43 L151.22 823.36 L152.38 823.28 L153.54 823.2 L154.7 823.12 L155.86 823.03 L157.02 822.93 L158.18 822.84 L159.34 822.74 L160.5 822.63 L161.67 822.52 L162.83 822.4 L163.99 822.28 L165.15 822.15 L166.31 822.02 L167.47 821.88 L168.63 821.73 L169.8 821.58 L170.96 821.42 L172.12 821.25 L173.28 821.07 L174.44 820.89 L175.6 820.7 L176.76 820.5 L177.92 820.29 L179.08 820.07 L180.25 819.84 L181.41 819.6 L182.57 819.35 L183.73 819.09 L184.89 818.82 L186.05 818.54 L187.21 818.24 L188.38 817.93 L189.54 817.61 L190.7 817.27 L191.86 816.92 L193.02 816.56 L194.18 816.17 L195.34 815.77 L196.5 815.36 L197.66 814.93 L198.83 814.48 L199.99 814.01 L201.15 813.52 L202.31 813.01 L203.47 812.48 L204.63 811.93 L205.79 811.35 L206.95 810.76 L208.12 810.14 L209.28 809.49 L210.44 808.83 L211.6 808.13 L212.76 807.41 L213.92 806.66 L215.08 805.89 L216.25 805.09 L217.41 804.25 L218.57 803.39 L219.73 802.5 L220.89 801.58 L222.05 800.62 L223.21 799.64 L224.37 798.62 L225.53 797.57 L226.7 796.49 L227.86 795.37 L229.02 794.22 L230.18 793.03 L231.34 791.81 L232.5 790.56 L233.66 789.27 L234.82 787.95 L235.99 786.59 L237.15 785.2 L238.31 783.78 L239.47 782.32 L240.63 780.83 L241.79 779.3 L242.95 777.75 L244.12 776.16 L245.28 774.54 L246.44 772.9 L247.6 771.22 L248.76 769.52 L249.92 767.8 L251.08 766.04 L252.24 764.27 L253.4 762.47 L254.57 760.66 L255.73 758.82 L256.89 756.97 L258.05 755.11 L259.21 753.23 L260.37 751.34 L261.53 749.44 L262.69 747.54 L263.86 745.63 L265.02 743.71 L266.18 741.8 L267.34 739.89 L268.5 737.98 L269.66 736.08 L270.82 734.18 L271.99 732.29 L273.15 730.42 L274.31 728.56 L275.47 726.71 L276.63 724.89 L277.79 723.08 L278.95 721.29 L280.11 719.52 L281.27 717.78 L282.44 716.06 L283.6 714.37 L284.76 712.71 L285.92 711.07 L287.08 709.46 L288.24 707.89 L289.4 706.34 L290.56 704.83 L291.73 703.35 L292.89 701.91 L294.05 700.49 L295.21 699.12 L296.37 697.77 L297.53 696.46 L298.69 695.19 L299.85 693.94 L301.02 692.74 L302.18 691.56 L303.34 690.42 L304.5 689.32 L305.66 688.25 L306.82 687.21 L307.98 686.2 L309.14 685.23 L310.31 684.29 L311.47 683.38 L312.63 682.49 L313.79 681.64 L314.95 680.82 L316.11 680.03 L317.27 679.26 L318.44 678.53 L319.6 677.82 L320.76 677.13 L321.92 676.47 L323.08 675.84 L324.24 675.23 L325.4 674.64 L326.56 674.07 L327.72 673.53 L328.89 673.01 L330.05 672.51 L331.21 672.02 L332.37 671.56 L333.53 671.12 L334.69 670.69 L335.85 670.28 L337.01 669.89 L338.18 669.51 L339.34 669.15 L340.5 668.8 L341.66 668.47 L342.82 668.15 L343.98 667.85 L345.14 667.56 L346.31 667.28 L347.47 667.01 L348.63 666.75 L349.79 666.51 L350.95 666.27 L352.11 666.05 L353.27 665.83 L354.43 665.63 L355.59 665.43 L356.76 665.24 L357.92 665.06 L359.08 664.89 L360.24 664.73 L361.4 664.57 L362.56 664.42 L363.72 664.27 L364.88 664.14 L366.05 664 L367.21 663.88 L368.37 663.76 L369.53 663.64 L370.69 663.53 L371.85 663.43 L373.01 663.33 L374.17 663.23 L375.34 663.14 L376.5 663.05 L377.66 662.97 L378.82 662.89 L379.98 662.81 L381.14 662.74 L382.3 662.67 L383.46 662.6 L384.63 662.54 L385.79 662.48 L386.95 662.42 L388.11 662.37 L389.27 662.31 L390.43 662.26 L391.59 662.21 L392.75 662.17 L393.92 662.12 L395.08 662.08 L396.24 662.04 L397.4 662" fill="none" stroke="#000" stroke-width="1.8" stroke-linejoin="round" stroke-linecap="butt" />
<text x="412.3" y="670.2" font-size="16" font-weight="bold" text-anchor="start" textLength="25.8" lengthAdjust="spacingAndGlyphs">WT</text>
<text x="411.4" y="794.8" font-size="16" font-weight="bold" text-anchor="start" textLength="44.6" lengthAdjust="spacingAndGlyphs">E83A</text>
<text x="411.2" y="816.4" font-size="16" font-weight="bold" text-anchor="start" textLength="55.8" lengthAdjust="spacingAndGlyphs">D173A</text>
</g>
</svg></body></html>
